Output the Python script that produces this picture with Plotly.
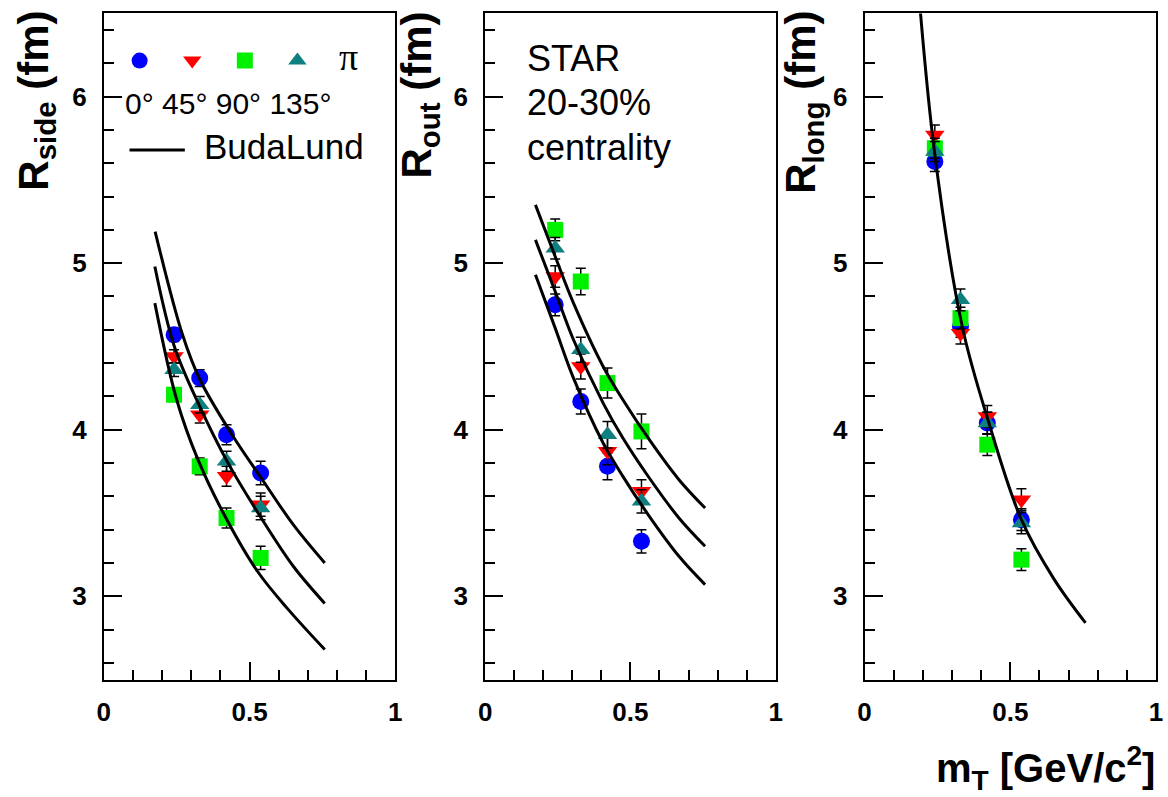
import plotly.graph_objects as go

# ---------------- data ----------------
mt = [0.241, 0.329, 0.421, 0.538]

side_0 = [4.57, 4.31, 3.97, 3.74]
side_45 = [4.44, 4.09, 3.72, 3.55]
side_90 = [4.21, 3.78, 3.47, 3.23]
side_135 = [4.36, 4.15, 3.81, 3.53]
side_err = [0.04, 0.05, 0.06, 0.07]

out_0 = [4.75, 4.17, 3.78, 3.33]
out_45 = [4.92, 4.38, 3.87, 3.63]
out_90 = [5.20, 4.89, 4.28, 3.99]
out_135 = [5.09, 4.48, 3.97, 3.57]
out_err = [0.065, 0.075, 0.08, 0.07]
out_err_90 = [0.065, 0.08, 0.09, 0.105]

long_0 = [5.61, 4.62, 4.04, 3.46]
long_45 = [5.77, 4.58, 4.08, 3.58]
long_90 = [5.69, 4.67, 3.91, 3.22]
long_135 = [5.67, 4.78, 4.04, 3.44]
long_err = [0.06, 0.065, 0.065, 0.065]

# BudaLund curves
side_fit_x_top = [0.176, 0.27, 0.33, 0.44, 0.54, 0.65, 0.758]
side_fit_top = [5.19, 4.57, 4.30, 3.97, 3.71, 3.43, 3.20]
side_fit_x_mid = [0.175, 0.242, 0.329, 0.423, 0.54, 0.65, 0.758]
side_fit_mid = [4.98, 4.50, 4.14, 3.81, 3.47, 3.18, 2.957]
side_fit_x_bot = [0.175, 0.25, 0.323, 0.419, 0.527, 0.628, 0.758]
side_fit_bot = [4.76, 4.18, 3.82, 3.47, 3.15, 2.93, 2.68]

out_fit_x = [0.173, 0.241, 0.304, 0.406, 0.474, 0.565, 0.667, 0.757]
out_fit_top = [5.35, 5.04, 4.76, 4.38, 4.18, 3.94, 3.70, 3.53]
out_fit_mid = [5.14, 4.83, 4.54, 4.16, 3.95, 3.71, 3.47, 3.30]
out_fit_bot = [4.93, 4.61, 4.31, 3.92, 3.72, 3.48, 3.24, 3.07]

long_fit_x = [0.18, 0.239, 0.335, 0.425, 0.538, 0.651, 0.758]
long_fit = [6.75, 5.68, 4.62, 4.05, 3.46, 3.10, 2.84]

angles = ["0°", "45°", "90°", "135°"]
colors = ["#0000ff", "#ff0000", "#00f000", "#0f7f7f"]
symbols = ["circle", "triangle-down", "square", "triangle-up"]
sizes = [17, 17, 16, 17]

W, H = 1168, 797
def px(x):
    return x / W
def py(y):
    return 1 - y / H

panel_x = [(98, 393), (484, 778), (868, 1163)]
ydom = [py(679.5), py(13.4)]

fig = go.Figure()

panels = [
    ([side_0, side_45, side_90, side_135], [side_err] * 4,
     [(side_fit_x_top, side_fit_top), (side_fit_x_mid, side_fit_mid), (side_fit_x_bot, side_fit_bot)]),
    ([out_0, out_45, out_90, out_135], [out_err, out_err, out_err_90, out_err],
     [(out_fit_x, out_fit_top), (out_fit_x, out_fit_mid), (out_fit_x, out_fit_bot)]),
    ([long_0, long_45, long_90, long_135], [long_err] * 4,
     [(long_fit_x, long_fit)]),
]

for p, (series, errs, fits) in enumerate(panels):
    xa = "x" if p == 0 else f"x{p+1}"
    ya = "y" if p == 0 else f"y{p+1}"
    for i in range(4):
        fig.add_trace(go.Scatter(
            x=mt, y=series[i], mode="markers", xaxis=xa, yaxis=ya,
            name=" ", showlegend=(p == 0),
            marker=dict(symbol=symbols[i], color=colors[i], size=sizes[i], line=dict(width=0)),
            error_y=dict(type="data", array=errs[i], color="black", thickness=1.5, width=5),
            cliponaxis=False,
        ))
    for fx, fy in fits:
        fig.add_trace(go.Scatter(
            x=fx, y=fy, mode="lines", xaxis=xa, yaxis=ya, showlegend=False,
            line=dict(color="black", width=3, shape="spline"),
        ))

tickfont = dict(family="Liberation Sans", size=26, color="black", weight="bold")
common = dict(showline=True, linecolor="black", linewidth=2, mirror=True,
              ticks="inside", tickcolor="black", tickwidth=1.5,
              showgrid=False, zeroline=False, tickfont=tickfont)

layout = dict(width=W, height=H, margin=dict(l=0, r=0, t=0, b=0),
              plot_bgcolor="white", paper_bgcolor="white", showlegend=True)
for p, (l, r) in enumerate(panel_x):
    sx = "" if p == 0 else str(p + 1)
    layout["xaxis" + sx] = dict(common, domain=[px(l), px(r)], range=[0, 1],
                                 anchor="y" + sx, tickvals=[0, 0.5, 1], ticktext=["0", "0.5", "1"],
                                 ticklen=18, ticklabelstandoff=8,
                                 minor=dict(ticks="inside", ticklen=10, tickwidth=1.5,
                                            tickcolor="black", dtick=0.1, tick0=0))
    layout["yaxis" + sx] = dict(common, domain=ydom, range=[2.5, 6.5],
                                 anchor="x" + sx, dtick=1, tick0=0, ticklen=18,
                                 ticklabelstandoff=10,
                                 minor=dict(ticks="inside", ticklen=10, tickwidth=1.5,
                                            tickcolor="black", dtick=0.2, tick0=0))
fig.update_layout(**layout)

fig.update_layout(legend=dict(
    orientation="h", x=px(114), y=py(61), xanchor="left", yanchor="middle",
    entrywidth=7.6, entrywidthmode="pixels", itemwidth=30,
    bgcolor="rgba(0,0,0,0)", font=dict(size=14), tracegroupgap=0,
))

txt = dict(family="Liberation Sans", color="black")
ann = []
ann.append(dict(text="π", x=px(346), y=py(57), xref="paper", yref="paper",
                xanchor="center", yanchor="middle", showarrow=False,
                font=dict(family="Liberation Serif", size=38, color="black")))
ann.append(dict(text="0° 45° 90° 135°", x=px(117), y=py(104), xref="paper", yref="paper",
                xanchor="left", yanchor="middle", showarrow=False, font=dict(txt, size=30)))
ann.append(dict(text="BudaLund", x=px(197), y=py(146), xref="paper", yref="paper",
                xanchor="left", yanchor="middle", showarrow=False, font=dict(txt, size=35)))
for k, t in enumerate(["STAR", "20-30%", "centrality"]):
    ann.append(dict(text=t, x=px(524), y=py(58 + 44.5 * k), xref="paper", yref="paper",
                    xanchor="left", yanchor="middle", showarrow=False, font=dict(txt, size=36)))

ytitles = [("R<sub>side</sub> (fm)", 29), ("R<sub>out</sub> (fm)", 418), ("R<sub>long</sub> (fm)", 806)]
for t, xx in ytitles:
    ann.append(dict(text="<b>" + t + "</b>", x=px(xx), y=py(9), xref="paper", yref="paper",
                    xanchor="center", yanchor="top", textangle=-90, showarrow=False,
                    font=dict(txt, size=42)))
ann.append(dict(text="<b>m<sub>T</sub> [GeV/c<sup>2</sup>]</b>", x=px(1164), y=py(768),
                xref="paper", yref="paper", xanchor="right", yanchor="middle",
                showarrow=False, font=dict(txt, size=40)))
fig.update_layout(annotations=ann)
fig.add_shape(type="line", xref="paper", yref="paper", x0=px(124), x1=px(180),
              y0=py(150), y1=py(150), line=dict(color="black", width=3))

fig.write_html("out.html")
